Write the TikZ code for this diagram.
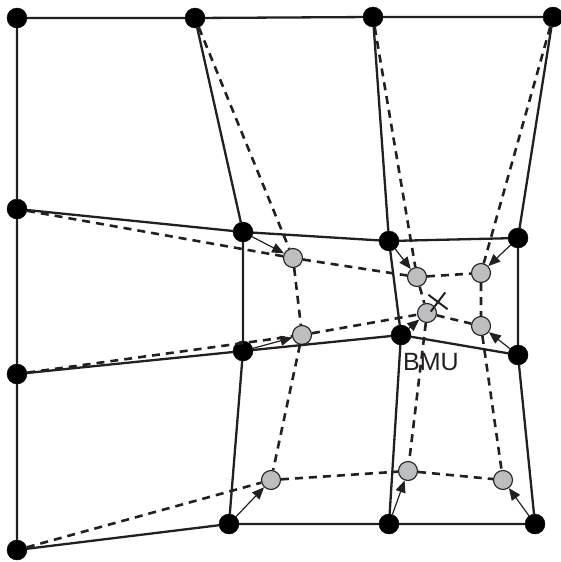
\documentclass[tikz,border=0pt]{standalone}
\usepackage{fontspec}
\setsansfont{Liberation Sans}
\usetikzlibrary{arrows.meta, shapes.misc}
\definecolor{ink}{HTML}{231F20}
\definecolor{lgray}{HTML}{BCBEC0}
\tikzset{
    old/.style = {circle, fill=black, draw=black, inner sep=0pt, minimum size=20pt},
    new/.style = {circle, fill=lgray, draw=ink, line width=1.1pt, inner sep=0pt, minimum size=19pt},
    grid/.style = {ink, line width=2.3pt},
    moved/.style = {ink, line width=2.6pt, dash pattern=on 8pt off 6pt},
    pull/.style = {ink, line width=1.2pt, -{Triangle[length=12pt, width=10pt]}}
}

\begin{document}
\begin{tikzpicture}[x=1pt, y=-1pt]
    \useasboundingbox (0,0) rectangle (561,562);
    % map before the update
    \node[old] (a00) at (17,18) {};
    \node[old] (a01) at (195,18) {};
    \node[old] (a02) at (373,17) {};
    \node[old] (a03) at (553,17) {};
    \node[old] (a10) at (17,209) {};
    \node[old] (a11) at (243,232) {};
    \node[old] (a12) at (389,241) {};
    \node[old] (a13) at (518,238) {};
    \node[old] (a20) at (17,374) {};
    \node[old] (a21) at (243,351) {};
    \node[old] (a22) at (401,335) {};
    \node[old] (a23) at (518,355) {};
    \node[old] (a30) at (17,550) {};
    \node[old] (a31) at (229,524) {};
    \node[old] (a32) at (389,524) {};
    \node[old] (a33) at (535,524) {};
    % map after the update
    \node[new] (g11) at (293,258) {};
    \node[new] (g12) at (417,277) {};
    \node[new] (g13) at (481,273) {};
    \node[new] (g21) at (302,335) {};
    \node[new] (g22) at (427,313) {};
    \node[new] (g23) at (481,326) {};
    \node[new] (g31) at (271,480) {};
    \node[new] (g32) at (408,471) {};
    \node[new] (g33) at (503,480) {};
    \node[cross out, draw=ink, line width=2pt, minimum size=15pt, inner sep=0pt, rotate=8] (inp) at (438,302) {};
    \node[font=\sffamily\fontsize{25}{25}\selectfont, text=ink] (bmu) at (431,362) {BMU};

    \draw[grid] (a00) -- (a01) -- (a02) -- (a03)
                (a10) -- (a11) -- (a12) -- (a13)
                (a20) -- (a21) -- (a22) -- (a23)
                (a30) -- (a31) -- (a32) -- (a33)
                (a00) -- (a10) -- (a20) -- (a30)
                (a01) -- (a11) -- (a21) -- (a31)
                (a02) -- (a12) -- (a22) -- (a32)
                (a03) -- (a13) -- (a23) -- (a33);
    \draw[moved] (a10) -- (g11) -- (g12) -- (g13)
                 (a20) -- (g21) -- (g22) -- (g23)
                 (a30) -- (g31) -- (g32) -- (g33)
                 (a01) -- (g11) -- (g21) -- (g31)
                 (a02) -- (g12) -- (g22) -- (g32)
                 (a03) -- (g13) -- (g23) -- (g33);
    \draw[pull] (a11) -- (g11);
    \draw[pull] (a12) -- (g12);
    \draw[pull] (a13) -- (g13);
    \draw[pull] (a21) -- (g21);
    \draw[pull] (a22) -- (g22);
    \draw[pull] (a23) -- (g23);
    \draw[pull] (a31) -- (g31);
    \draw[pull] (a32) -- (g32);
    \draw[pull] (a33) -- (g33);
\end{tikzpicture}
\end{document}
